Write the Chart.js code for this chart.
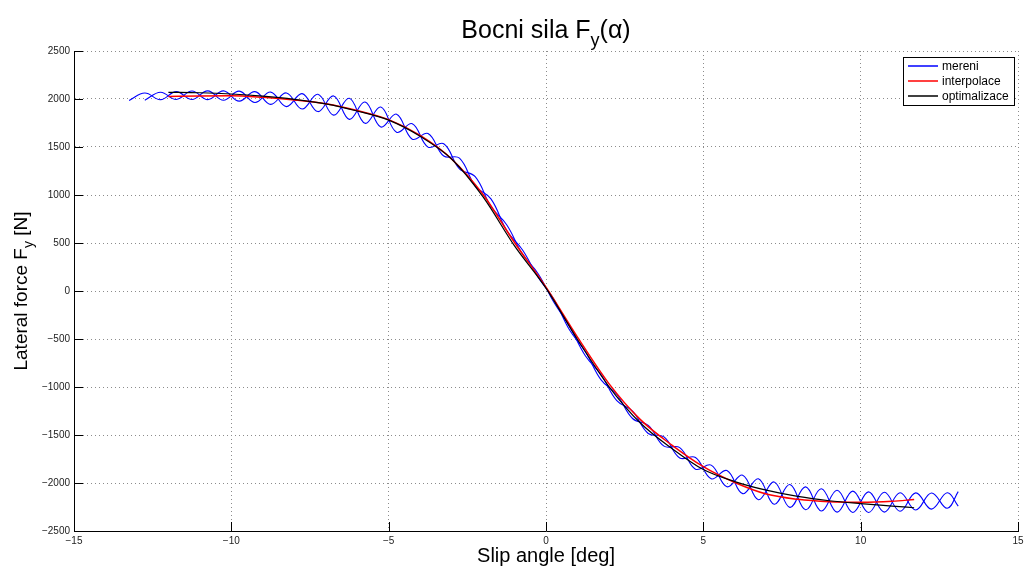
<!DOCTYPE html>
<html>
<head>
<meta charset="utf-8">
<script src="https://cdn.jsdelivr.net/npm/chart.js@4.4.1/dist/chart.umd.min.js"></script>
<style>
    html, body { margin: 0; padding: 0; background: #fff; }
    #wrap { width: 1030px; height: 570px; }
</style>
</head>
<body>
<div id="wrap"><canvas id="fyChart" width="1030" height="570"></canvas></div>
<script>
/* DATA */
const xTicks = [-15, -10, -5, 0, 5, 10, 15];
const yTicks = [-2500, -2000, -1500, -1000, -500, 0, 500, 1000, 1500, 2000, 2500];

// mereni - sweep there (left -> right), peaks and troughs
const mereniTamX = [-13.25,-12.75,-12.25,-11.75,-11.25,-10.75,-10.25,-9.75,-9.25,-8.75,-8.25,-7.75,-7.25,-6.75,-6.25,-5.75,-5.25,-4.75,-4.25,-3.75,-3.25,-2.75,-2.25,-1.75,-1.25,-0.75,-0.25,0.25,0.75,1.25,1.75,2.25,2.75,3.25,3.75,4.25,4.75,5.25,5.75,6.25,6.75,7.25,7.75,8.25,8.75,9.25,9.75,10.25,10.75,11.25,11.75,12.25,12.75,13.1];
const mereniTamY = [1985,2062,1993,2077,1995,2085,1987,2082,1963,2072,1921,2056,1869,2032,1788,1969,1708,1842,1581,1641,1406,1384,1093,960,630,430,144,-86,-407,-630,-926,-1078,-1328,-1400,-1616,-1631,-1856,-1814,-2039,-1919,-2174,-1989,-2254,-2040,-2292,-2075,-2307,-2092,-2303,-2102,-2281,-2104,-2263,-2090];

// mereni - sweep back (right -> left)
const mereniZpetX = [13.1,12.75,12.25,11.75,11.25,10.75,10.25,9.75,9.25,8.75,8.25,7.75,7.25,6.75,6.25,5.75,5.25,4.75,4.25,3.75,3.25,2.75,2.25,1.75,1.25,0.75,0.25,-0.25,-0.75,-1.25,-1.75,-2.25,-2.75,-3.25,-3.75,-4.25,-4.75,-5.25,-5.75,-6.25,-6.75,-7.25,-7.75,-8.25,-8.75,-9.25,-9.75,-10.25,-10.75,-11.25,-11.75,-12.25,-12.75];
const mereniZpetY = [-2240,-2101,-2272,-2103,-2294,-2097,-2308,-2085,-2303,-2060,-2278,-2016,-2221,-1956,-2111,-1871,-1956,-1734,-1739,-1520,-1484,-1252,-1142,-870,-674,-369,-118,180,386,690,880,1191,1272,1534,1499,1743,1654,1916,1747,2008,1832,2049,1896,2063,1944,2077,1978,2085,1993,2083,1995,2071,1988];

// interpolace
const interpX = [-12,-11,-10,-9,-8,-7,-6,-5,-4,-3,-2,-1,0,1,2,3,4,5,6,7,8,9,10,11,11.7];
const interpY = [2025,2032,2035,2018,1990,1950,1880,1785,1620,1375,1005,505,40,-480,-965,-1340,-1605,-1830,-1995,-2115,-2170,-2195,-2200,-2190,-2172];

// optimalizace
const optX = [-12,-11,-10,-9,-8,-7,-6,-5,-4,-3,-2,-1,0,1,2,3,4,5,6,7,8,9,10,11,11.7];
const optY = [2070,2065,2052,2030,1997,1950,1875,1780,1612,1375,980,470,30,-505,-995,-1375,-1640,-1860,-1985,-2075,-2140,-2185,-2215,-2240,-2258];

const FONT = "'Liberation Sans', Arial, Helvetica, sans-serif";

function toPoints(xs, ys) {
    return xs.map((x, i) => ({ x: x, y: ys[i] }));
}

/* TEXT WITH SUBSCRIPT */
function drawSubText(ctx, parts, cx, cy, size, rotate) {
    const subSize = Math.round(size * 0.72);
    const big = size + "px " + FONT;
    const small = subSize + "px " + FONT;

    ctx.font = big;
    const w0 = ctx.measureText(parts[0]).width;
    const w2 = ctx.measureText(parts[2]).width;
    ctx.font = small;
    const w1 = ctx.measureText(parts[1]).width;
    const total = w0 + w1 + w2;

    ctx.save();
    ctx.translate(cx, cy);
    if (rotate) ctx.rotate(-Math.PI / 2);
    ctx.fillStyle = "#000";
    ctx.textBaseline = "alphabetic";
    ctx.textAlign = "left";

    let x = -total / 2;
    ctx.font = big;
    ctx.fillText(parts[0], x, 0);
    x += w0;
    ctx.font = small;
    ctx.fillText(parts[1], x, size * 0.32);
    x += w1;
    ctx.font = big;
    ctx.fillText(parts[2], x, 0);
    ctx.restore();
}

/* PLUGIN: inward ticks, titles, legend */
const popisky = {
    id: "popisky",
    afterDraw(chart) {
        const { ctx, chartArea: a, scales: { x, y } } = chart;

        ctx.save();
        ctx.strokeStyle = "#000";
        ctx.lineWidth = 1;
        ctx.beginPath();
        x.ticks.forEach(t => {
            const px = Math.round(x.getPixelForValue(t.value)) + 0.5;
            ctx.moveTo(px, a.bottom);
            ctx.lineTo(px, a.bottom - 9);
        });
        y.ticks.forEach(t => {
            const py = Math.round(y.getPixelForValue(t.value)) + 0.5;
            ctx.moveTo(a.left, py);
            ctx.lineTo(a.left + 9, py);
        });
        ctx.stroke();
        ctx.restore();

        drawSubText(ctx, ["Bocni sila F", "y", "(\u03b1)"], (a.left + a.right) / 2, 38, 25, false);
        drawSubText(ctx, ["Slip angle [deg]", "", ""], (a.left + a.right) / 2, 562, 20, false);
        drawSubText(ctx, ["Lateral force F", "y", " [N]"], 27, (a.top + a.bottom) / 2, 19, true);

        // legend box
        const lx = 903, ly = 57, lw = 111, lh = 48;
        ctx.save();
        ctx.fillStyle = "#fff";
        ctx.fillRect(lx, ly, lw, lh);
        ctx.strokeStyle = "#000";
        ctx.lineWidth = 1;
        ctx.strokeRect(lx + 0.5, ly + 0.5, lw, lh);
        ctx.font = "12px " + FONT;
        ctx.textBaseline = "middle";
        ctx.textAlign = "left";

        const seen = [];
        let row = 0;
        chart.data.datasets.forEach(ds => {
            if (seen.includes(ds.label)) return;
            seen.push(ds.label);
            const ry = ly + 9 + row * 15;
            ctx.strokeStyle = ds.borderColor;
            ctx.lineWidth = 1.5;
            ctx.beginPath();
            ctx.moveTo(lx + 5, ry);
            ctx.lineTo(lx + 35, ry);
            ctx.stroke();
            ctx.fillStyle = "#000";
            ctx.fillText(ds.label, lx + 39, ry + 1);
            row++;
        });
        ctx.restore();
    }
};

/* CHART */
function initChart() {
    const ctx = document.getElementById("fyChart").getContext("2d");

    new Chart(ctx, {
        type: "line",
        data: {
            datasets: [
                {
                    label: "mereni",
                    data: toPoints(mereniTamX, mereniTamY),
                    borderColor: "#0000ff",
                    borderWidth: 1.1,
                    tension: 0.4,
                    order: 3
                },
                {
                    label: "mereni",
                    data: toPoints(mereniZpetX, mereniZpetY),
                    borderColor: "#0000ff",
                    borderWidth: 1.1,
                    tension: 0.4,
                    order: 3
                },
                {
                    label: "interpolace",
                    data: toPoints(interpX, interpY),
                    borderColor: "#ff0000",
                    borderWidth: 1.5,
                    cubicInterpolationMode: "monotone",
                    order: 2
                },
                {
                    label: "optimalizace",
                    data: toPoints(optX, optY),
                    borderColor: "#000000",
                    borderWidth: 1.2,
                    cubicInterpolationMode: "monotone",
                    order: 1
                }
            ]
        },
        options: {
            responsive: false,
            devicePixelRatio: 1,
            animation: false,
            parsing: false,
            elements: { point: { radius: 0 } },
            layout: { padding: { top: 51, right: 12, bottom: 0, left: 0 } },
            plugins: {
                legend: { display: false },
                title: { display: false },
                tooltip: { enabled: false }
            },
            scales: {
                x: {
                    type: "linear",
                    min: -15,
                    max: 15,
                    afterBuildTicks: s => { s.ticks = xTicks.map(v => ({ value: v })); },
                    afterFit: s => { s.height = 39; },
                    grid: { color: "#8c8c8c", lineWidth: 1, drawTicks: false },
                    border: { display: true, color: "#000", width: 1, dash: [1, 3] },
                    ticks: {
                        autoSkip: false,
                        maxRotation: 0,
                        padding: 4,
                        color: "#222",
                        font: { family: FONT, size: 10 },
                        callback: v => v < 0 ? "\u2212" + Math.abs(v) : String(v)
                    }
                },
                y: {
                    type: "linear",
                    min: -2500,
                    max: 2500,
                    afterBuildTicks: s => { s.ticks = yTicks.map(v => ({ value: v })); },
                    afterFit: s => { s.width = 74; },
                    grid: { color: "#8c8c8c", lineWidth: 1, drawTicks: false },
                    border: { display: true, color: "#000", width: 1, dash: [1, 3] },
                    ticks: {
                        autoSkip: false,
                        padding: 4,
                        color: "#222",
                        font: { family: FONT, size: 10 },
                        callback: v => v < 0 ? "\u2212" + Math.abs(v) : String(v)
                    }
                }
            }
        },
        plugins: [popisky]
    });
}

document.addEventListener("DOMContentLoaded", initChart);
</script>
</body>
</html>
